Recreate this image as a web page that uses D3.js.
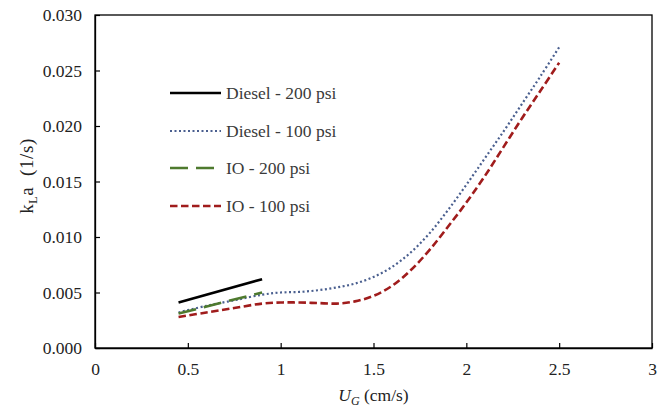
<!DOCTYPE html>
<html>
<head>
<meta charset="utf-8">
<script src="https://cdn.jsdelivr.net/npm/d3@7/dist/d3.min.js"></script>
<style>
  html, body { margin: 0; padding: 0; background: #fff; }
  svg { display: block; }
  text { font-family: "Liberation Serif", "Times New Roman", serif; }
</style>
</head>
<body>
<svg id="chart" width="668" height="408"></svg>
<script>
// ---- data ----
const xTicks = [0, 0.5, 1, 1.5, 2, 2.5, 3];
const yTicks = [0, 0.005, 0.010, 0.015, 0.020, 0.025, 0.030];

const ug200 = [0.45, 0.9];
const diesel200 = [0.0041, 0.0062];
const io200 = [0.0031, 0.0050];

const ug100 = [0.45, 0.6, 0.75, 0.9, 1.0, 1.1, 1.2, 1.3, 1.4, 1.5, 1.6, 1.7, 1.8, 1.9, 2.0, 2.1, 2.2, 2.3, 2.4, 2.5];
const diesel100 = [0.0032, 0.0038, 0.0043, 0.0048, 0.0050, 0.00505, 0.0052, 0.00545, 0.0058, 0.0064, 0.0073, 0.0086, 0.0103, 0.0124, 0.0147, 0.0171, 0.0195, 0.0220, 0.0245, 0.0271];
const io100 = [0.0028, 0.0032, 0.0036, 0.0040, 0.0041, 0.0041, 0.00405, 0.0040, 0.0042, 0.0047, 0.0056, 0.0070, 0.0088, 0.0109, 0.0131, 0.0155, 0.0181, 0.0207, 0.0232, 0.0257];

const seriesNames = ["Diesel - 200 psi", "Diesel - 100 psi", "IO - 200 psi", "IO - 100 psi"];

// ---- styles ----
const styles = [
  { color: "#000000", width: 2.6, dash: null, cap: "butt" },
  { color: "#4a5f8f", width: 2.2, dash: "2,2.5", cap: "butt" },
  { color: "#4e7a2e", width: 2.6, dash: "18,8", cap: "butt" },
  { color: "#a01c1c", width: 2.6, dash: "7.5,3.5", cap: "butt" }
];

const svg = d3.select("#chart");
const margin = { left: 95, right: 16, top: 15, bottom: 60 };
const W = 668, H = 408;
const x = d3.scaleLinear().domain([0, 3]).range([margin.left, W - margin.right]);
const y = d3.scaleLinear().domain([0, 0.030]).range([H - margin.bottom, margin.top]);

// frame
svg.append("rect")
  .attr("x", x(0)).attr("y", y(0.030))
  .attr("width", x(3) - x(0)).attr("height", y(0) - y(0.030))
  .attr("fill", "none").attr("stroke", "#000").attr("stroke-width", 1.3);

const xAxis = d3.axisBottom(x).tickValues(xTicks).tickSizeInner(-5).tickSizeOuter(0).tickPadding(15)
  .tickFormat(d => d3.format("")(d));
const gx = svg.append("g").attr("transform", `translate(0,${y(0)})`).call(xAxis);
const yAxis = d3.axisLeft(y).tickValues(yTicks).tickSizeInner(-5).tickSizeOuter(0).tickPadding(13)
  .tickFormat(d3.format(".3f"));
const gy = svg.append("g").attr("transform", `translate(${x(0)},0)`).call(yAxis);

[gx, gy].forEach(g => {
  g.select(".domain").attr("stroke", "#000").attr("stroke-width", 1.3);
  g.selectAll(".tick line").attr("stroke", "#000").attr("stroke-width", 1.2);
  g.selectAll(".tick text").attr("font-size", 17.5).attr("fill", "#222");
});

// lines
const datasets = [
  ug200.map((u, i) => [u, diesel200[i]]),
  ug100.map((u, i) => [u, diesel100[i]]),
  ug200.map((u, i) => [u, io200[i]]),
  ug100.map((u, i) => [u, io100[i]])
];
const line = d3.line().x(d => x(d[0])).y(d => y(d[1])).curve(d3.curveCatmullRom.alpha(0.5));

// draw order: 100 psi first then 200 psi on top
[1, 3, 0, 2].forEach(i => {
  const s = styles[i];
  svg.append("path")
    .datum(datasets[i])
    .attr("d", line)
    .attr("fill", "none")
    .attr("stroke", s.color)
    .attr("stroke-width", s.width)
    .attr("stroke-dasharray", s.dash)
    .attr("stroke-linecap", s.cap);
});

// legend
const legY = [93, 131, 168, 206];
seriesNames.forEach((name, i) => {
  const s = styles[i];
  svg.append("line")
    .attr("x1", 170).attr("x2", 221)
    .attr("y1", legY[i]).attr("y2", legY[i])
    .attr("stroke", s.color).attr("stroke-width", s.width)
    .attr("stroke-dasharray", s.dash)
    .attr("stroke-linecap", s.cap);
  svg.append("text")
    .attr("x", 226).attr("y", legY[i]).attr("dy", "0.33em")
    .attr("font-size", 17.5).attr("fill", "#3a3a3a")
    .text(name);
});

// x axis title
const xt = svg.append("text")
  .attr("x", (x(0) + x(3)) / 2).attr("y", 401)
  .attr("text-anchor", "middle").attr("font-size", 17.5).attr("fill", "#222");
xt.append("tspan").attr("font-style", "italic").text("U");
xt.append("tspan").attr("font-style", "italic").attr("font-size", 12).attr("dy", 4).text("G");
xt.append("tspan").attr("dy", -4).text(" (cm/s)");

// y axis title
const yt = svg.append("text")
  .attr("transform", `translate(33,176) rotate(-90)`)
  .attr("text-anchor", "middle").attr("font-size", 19).attr("letter-spacing", 0.6).attr("fill", "#222");
yt.append("tspan").text("k");
yt.append("tspan").attr("font-size", 12).attr("dy", 4).text("L");
yt.append("tspan").attr("dy", -4).text("a\u00a0\u00a0(1/s)");
</script>
</body>
</html>
